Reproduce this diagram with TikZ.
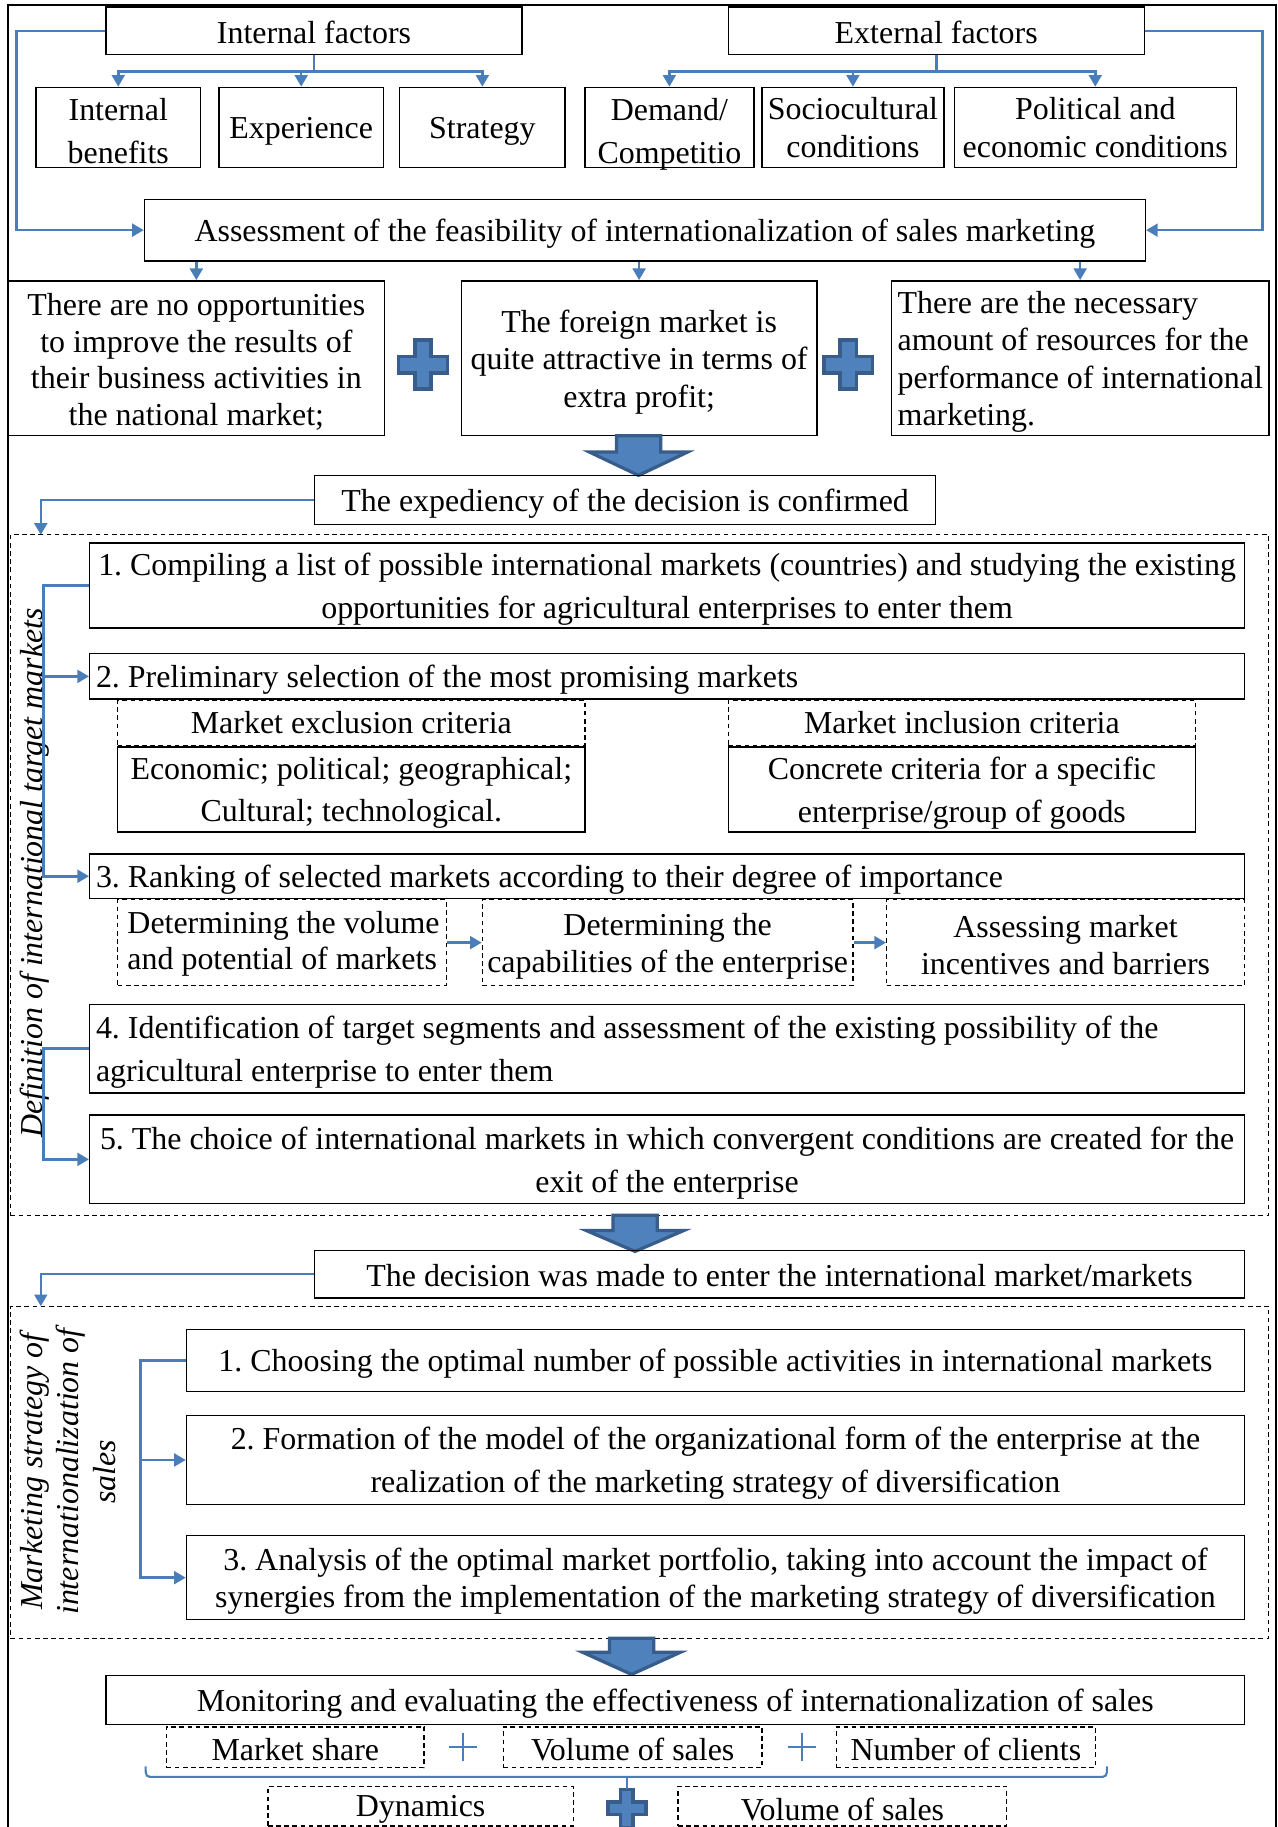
\documentclass[tikz,border=0pt]{standalone}
\usepackage{fontspec}
\setmainfont{Liberation Serif}
\usetikzlibrary{arrows.meta}
\definecolor{lblue}{HTML}{4A7EBB}
\definecolor{fblue}{HTML}{4F81BD}
\definecolor{dblue}{HTML}{385D8A}
\newcommand\myfsA{\fontsize{13.7}{15.7}\selectfont\frenchspacing}
\newcommand\myfsB{\fontsize{13.7}{18.4}\selectfont\frenchspacing}
\newcommand\myfsC{\fontsize{13.7}{16.1}\selectfont\frenchspacing}
% name, frame style, text style, x1, y1, x2, y2, text
\newcommand\mybox[8]{%
  \node[#2, minimum width={(#6-#4)*0.5pt}, minimum height={(#7-#5)*0.5pt}] (#1) at ({(#4+#6)/2},{(#5+#7)/2}) {};
  \node[#3] (#1t) at ({(#4+#6)/2},{(#5+#7)/2+3}) {#8};}
% same, left aligned, #9 = indent
\newcommand\myboxl[9]{%
  \node[#2, minimum width={(#6-#4)*0.5pt}, minimum height={(#7-#5)*0.5pt}] (#1) at ({(#4+#6)/2},{(#5+#7)/2}) {};
  \node[#3, anchor=west, align=left] (#1t) at ({#4+#9},{(#5+#7)/2+3}) {#8};}
\newcommand\myblk[4]{\filldraw[fill=fblue, draw=dblue, line width=1.4pt, line join=miter] ({#1-19},#2) -- ({#1+19},#2) -- ({#1+19},#3) -- ({#1+42},#3) -- (#1,#4) -- ({#1-42},#3) -- ({#1-19},#3) -- cycle;}
\newcommand\mythinplus[2]{\draw[lblue, line width=0.8pt] ({#1-12},#2) -- ({#1+12},#2) ({#1},{#2-12}) -- ({#1},{#2+12});}
\tikzset{
  bigplus/.pic={\filldraw[fill=fblue,draw=dblue,line width=1.5pt] (-7,-21) -- (7,-21) -- (7,-7) -- (21,-7) -- (21,7) -- (7,7) -- (7,21) -- (-7,21) -- (-7,7) -- (-21,7) -- (-21,-7) -- (-7,-7) -- cycle;},
  frm/.style={draw, line width=0.6pt, inner sep=0pt},
  dfrm/.style={frm, dash pattern=on 2pt off 1.5pt},
  txt/.style={font=\myfsA, align=center, inner sep=0pt},
  wtxt/.style={txt, font=\myfsB},
  ctxt/.style={txt, font=\myfsC},
  region/.style={draw, line width=0.5pt, dash pattern=on 2pt off 1.5pt, inner sep=0pt},
  conn/.style={draw=lblue, line width=1.1pt},
  arr/.style={conn, -{Triangle[length=5pt,width=5.5pt]}},
}
\begin{document}
\begin{tikzpicture}[x=0.5pt, y=-0.5pt]
\useasboundingbox (0,0) rectangle (1096,1568);
\fill[white] (0,0) rectangle (1096,1568);
% outer frame
\draw[line width=0.75pt] (7,1570) -- (7,4) -- (1095,4) -- (1095,1570);

% row 1
\mybox{inf}{frm}{txt,yshift=1pt}{91}{6}{448}{47}{Internal factors}
\mybox{exf}{frm}{txt,yshift=1pt}{625}{6}{982}{47}{External factors}
% row 2
\mybox{ib}{frm}{wtxt}{31}{75}{172}{144}{Internal\\benefits}
\mybox{ex}{frm}{txt}{188}{75}{329}{144}{Experience}
\mybox{st}{frm}{txt}{343}{75}{485}{144}{Strategy}
\mybox{dc}{frm}{wtxt,yshift=-1.5pt}{502}{75}{647}{144}{Demand/\\Competitio}
\mybox{sc}{frm}{ctxt,yshift=1.5pt}{654}{75}{810}{144}{Sociocultural\\conditions}
\mybox{pe}{frm}{ctxt,yshift=1.5pt}{819}{75}{1061}{144}{Political and\\economic conditions}
% assessment
\mybox{as}{frm}{txt}{124}{171}{983}{224}{Assessment of the feasibility of internationalization of sales marketing}
% row 3
\mybox{r1}{frm}{txt}{7}{241}{330}{374}{There are no opportunities\\to improve the results of\\their business activities in\\the national market;}
\mybox{r2}{frm}{ctxt}{396}{241}{701}{374}{The foreign market is\\quite attractive in terms of\\extra profit;}
\myboxl{r3}{frm}{ctxt}{765}{241}{1089}{374}{There are the necessary\\amount of resources for the\\performance of international\\marketing.}{5}
\pic at (363,313) {bigplus};
\pic at (728,313) {bigplus};

\myblk{548}{374}{388}{408}
\mybox{exp}{frm}{txt}{270}{408}{803}{450}{The expediency of the decision is confirmed}

% region 1
\mybox{reg1}{region}{txt}{9}{459}{1089}{1043}{}
\mybox{s1}{frm}{wtxt}{77}{466}{1068}{539}{1. Compiling a list of possible international markets (countries) and studying the existing\\opportunities for agricultural enterprises to enter them}
\myboxl{s2}{frm}{txt}{77}{561}{1068}{600}{2. Preliminary selection of the most promising markets}{5}
\mybox{exh}{dfrm}{txt,yshift=1.5pt}{101}{601}{502}{640}{Market exclusion criteria}
\mybox{exb}{frm}{wtxt}{101}{641}{502}{714}{Economic; political; geographical;\\Cultural; technological.}
\mybox{inh}{dfrm}{txt,yshift=1.5pt}{625}{601}{1026}{640}{Market inclusion criteria}
\mybox{inb}{frm}{wtxt}{625}{641}{1026}{714}{Concrete criteria for a specific\\enterprise/group of goods}
\myboxl{s3}{frm}{txt}{77}{733}{1068}{771}{3. Ranking of selected markets according to their degree of importance}{5}
\myboxl{d1}{dfrm}{txt,yshift=1pt}{101}{772}{383}{846}{Determining the volume\\and potential of markets}{8}
\mybox{d2}{dfrm}{ctxt}{414}{772}{732}{846}{Determining the\\capabilities of the enterprise}
\mybox{d3}{dfrm}{ctxt,yshift=0.5pt}{761}{772}{1068}{846}{Assessing market\\incentives and barriers}
\myboxl{s4}{frm}{wtxt}{77}{862}{1068}{938}{4. Identification of target segments and assessment of the existing possibility of the\\agricultural enterprise to enter them}{5}
\mybox{s5}{frm}{wtxt}{77}{957}{1068}{1033}{5. The choice of international markets in which convergent conditions are created for the\\exit of the enterprise}
\node[font=\myfsA\itshape, rotate=90, inner sep=0pt] (lab1) at (30,749) {Definition of international target markets};

\myblk{545}{1043}{1056}{1074}
\mybox{dec}{frm}{txt,yshift=1pt}{270}{1073}{1068}{1114}{The decision was made to enter the international market/markets}

% region 2
\mybox{reg2}{region}{txt}{9}{1121}{1089}{1406}{}
\node[font=\myfsA\itshape, rotate=90, align=center, inner sep=0pt] (lab2) at (58,1263) {Marketing strategy of\\internationalization of\\sales};
\mybox{m1}{frm}{txt}{160}{1141}{1068}{1194}{1. Choosing the optimal number of possible activities in international markets}
\mybox{m2}{frm}{wtxt}{160}{1215}{1068}{1291}{2. Formation of the model of the organizational form of the enterprise at the\\realization of the marketing strategy of diversification}
\mybox{m3}{frm}{ctxt}{160}{1318}{1068}{1390}{3. Analysis of the optimal market portfolio, taking into account the impact of\\synergies from the implementation of the marketing strategy of diversification}

\myblk{542}{1406}{1418}{1437}
\mybox{mon}{frm}{txt}{91}{1438}{1068}{1480}{Monitoring and evaluating the effectiveness of internationalization of sales}
\mybox{k1}{dfrm}{txt,yshift=0.5pt}{143}{1482}{364}{1517}{Market share}
\mybox{k2}{dfrm}{txt,yshift=0.5pt}{432}{1482}{654}{1517}{Volume of sales}
\mybox{k3}{dfrm}{txt,yshift=0.5pt}{718}{1482}{940}{1517}{Number of clients}
\mythinplus{397}{1499}
\mythinplus{688}{1499}
\mybox{k4}{dfrm}{txt}{230}{1533}{492}{1567}{Dynamics}
\mybox{k5}{dfrm}{txt}{582}{1533}{864}{1567}{Volume of sales}
\pic[scale=0.78] at (538,1552) {bigplus};

% connectors
\draw[arr] (inf.west) -- ++(-76,0) |- (as.west);
\draw[arr] (exf.east) -- ++(101,0) |- (as.east);
\draw[conn] (inf.south) -- ++(0,14) coordinate (ti);
\draw[arr] (ti) -| (ib.north);
\draw[arr] (ti) -| (ex.north);
\draw[arr] (ti) -| (st.north);
\draw[conn] (exf.south) -- ++(0,14) coordinate (te);
\draw[arr] (te) -| (dc.north);
\draw[arr] (te) -| (sc.north);
\draw[arr] (te) -| (pe.north);
\draw[arr] (as.south -| r1.north) -- (r1.north);
\draw[arr] (as.south -| r2.north) -- (r2.north);
\draw[arr] (as.south -| r3.north) -- (r3.north);
\coordinate (c1) at (35,459);
\draw[arr] (exp.west) -| (c1);
\draw[arr] (s1.west) -- ++(-39,0) |- (s2.west);
\draw[arr] (s1.west) ++(-39,0) |- (s3.west);
\draw[arr] (s4.west) -- ++(-39,0) |- (s5.west);
\draw[arr] (d1.east) -- (d2.west);
\draw[arr] (d2.east) -- (d3.west);
\coordinate (c2) at (35,1121);
\draw[arr] (dec.west) -| (c2);
\draw[arr] (m1.west) -- ++(-39,0) |- (m2.west);
\draw[arr] (m1.west) ++(-39,0) |- (m3.west);
% bracket
\coordinate (bl) at (125,1516);
\coordinate (br) at (950,1516);
\coordinate (bm) at (538,1525);
\coordinate (bt) at (538,1535);
\draw[conn, line width=0.9pt] (bl) .. controls (125,1525) .. (133,1525) -- (942,1525) .. controls (950,1525) .. (br);
\draw[conn, line width=0.9pt] (bm) -- (bt);
\end{tikzpicture}
\end{document}
